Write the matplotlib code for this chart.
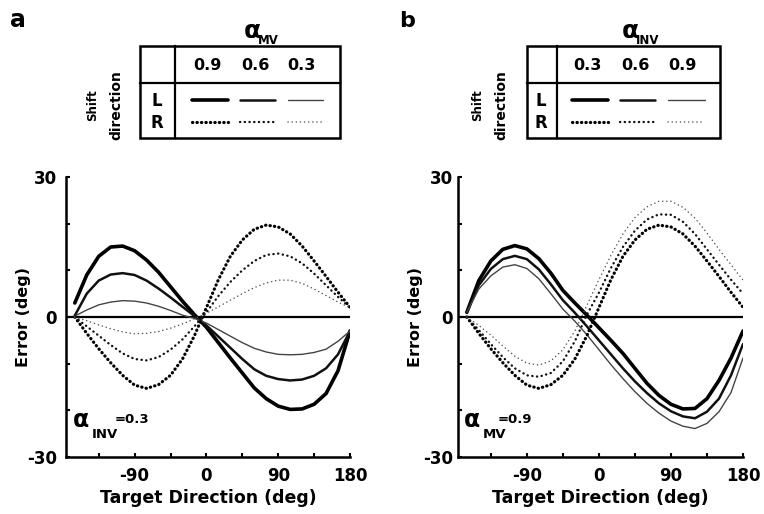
import matplotlib
matplotlib.use('Agg')
import matplotlib.pyplot as plt
from matplotlib.patches import Rectangle
from matplotlib.ticker import FixedLocator

plt.rcParams['font.family'] = ['DejaVu Sans']
plt.rcParams['font.weight'] = 'bold'

# ---------------- data ----------------
target_dir = [-165, -150, -135, -120, -105, -90, -75, -60, -45, -30, -15, 0,
              15, 30, 45, 60, 75, 90, 105, 120, 135, 150, 165, 180]

# Panel a: alpha_INV = 0.3, alpha_MV = 0.9 / 0.6 / 0.3
a_levels = ['0.9', '0.6', '0.3']
a_left_09 = [3, 9, 13, 15, 15.2, 14.2, 12.2, 9.6, 6.5, 3.4, 0.5, -2.2,
             -5.5, -8.8, -12, -15.2, -17.5, -19.1, -19.8, -19.7, -18.7, -16.4, -11.5, -3]
a_left_06 = [0.3, 5, 7.8, 9.1, 9.4, 9.0, 7.8, 6.1, 4.2, 2.2, 0.2, -1.8,
             -4.2, -6.6, -9, -11.2, -12.6, -13.3, -13.6, -13.4, -12.6, -11, -8, -3]
a_left_03 = [0.2, 1.5, 2.6, 3.2, 3.5, 3.4, 3.0, 2.3, 1.4, 0.4, -0.3, -1.3,
             -2.7, -4.1, -5.5, -6.7, -7.5, -8, -8.1, -8, -7.6, -6.9, -5.2, -3]
a_right_09 = [0, -3.5, -6.8, -9.8, -12.5, -14.6, -15.3, -14.5, -12.5, -9, -4, 2,
              8, 13, 16.5, 18.8, 19.7, 19.3, 17.8, 15.2, 12, 8.7, 5.3, 2.1]
a_right_06 = [0, -2, -4, -6, -7.8, -9, -9.3, -8.6, -7, -4.8, -2, 1,
              4.5, 7.5, 10, 12, 13.3, 13.6, 13, 11.5, 9.3, 6.8, 4.3, 2]
a_right_03 = [0, -0.8, -1.7, -2.5, -3.2, -3.6, -3.5, -3.1, -2.4, -1.5, -0.4, 0.8,
              2.2, 3.6, 5, 6.3, 7.3, 7.9, 7.9, 7.2, 6, 4.6, 3.2, 2]

# Panel b: alpha_MV = 0.9, alpha_INV = 0.3 / 0.6 / 0.9
b_levels = ['0.3', '0.6', '0.9']
b_left_03 = [1, 7.8, 12, 14.5, 15.3, 14.6, 12.5, 9.4, 5.7, 3.0, 0.4, -2.3,
             -5, -7.8, -11, -14.2, -16.8, -18.7, -19.7, -19.6, -17.5, -13.6, -8.8, -3]
b_left_06 = [1, 6.8, 10.3, 12.4, 13.1, 12.4, 10.2, 7, 3.6, 0.9, -2, -5,
             -8, -11, -13.8, -16.3, -18.5, -20.2, -21.3, -21.7, -20.3, -17.5, -12.5, -5.8]
b_left_09 = [1, 6, 8.8, 10.7, 11.2, 10.4, 8.2, 5, 1.7, -0.9, -3.8, -7,
             -10.2, -13.2, -16, -18.5, -20.6, -22.3, -23.4, -23.9, -22.8, -20.3, -16.2, -8.8]
b_right_03 = [0, -3.5, -6.8, -9.8, -12.5, -14.6, -15.3, -14.5, -12.5, -9, -4, 2,
              8, 13, 16.5, 18.8, 19.7, 19.3, 17.8, 15.2, 12, 8.7, 5.3, 2.1]
b_right_06 = [0, -2.8, -5.8, -8.6, -11, -12.5, -12.8, -12, -9.5, -5.2, 0.5, 5.2,
              10.5, 15, 18.5, 20.9, 22, 21.9, 20.4, 17.8, 14.5, 11.2, 8, 5]
b_right_09 = [0, -1.8, -3.9, -6.2, -8.4, -9.9, -10.3, -9.4, -7, -3, 2.5, 8,
              13.2, 17.8, 21.3, 23.6, 24.8, 24.8, 23.5, 21.2, 18, 14.5, 11.2, 7.9]

x_ticks = [-90, 0, 90, 180]
x_minor = [-135, -45, 45, 135]
y_ticks = [-30, 0, 30]
y_minor = [-20, -10, 10, 20]

# ---------------- styles ----------------
solid_styles = [dict(color='black', lw=2.6, solid_capstyle='round'),
                dict(color='#111111', lw=1.8, solid_capstyle='round'),
                dict(color='#444444', lw=1.0, solid_capstyle='round')]
dot_styles = [dict(color='black', lw=2.3, ls=(0, (0.1, 1.3)), dash_capstyle='round'),
              dict(color='#111111', lw=1.7, ls=(0, (0.1, 1.9)), dash_capstyle='round'),
              dict(color='#555555', lw=1.1, ls=(0, (0.1, 2.6)), dash_capstyle='round')]

W, H = 764, 514
fig = plt.figure(figsize=(W / 100, H / 100), dpi=100)


def px_axes(l, r, t, b):
    return fig.add_axes([l / W, 1 - b / H, (r - l) / W, (b - t) / H])


def setup(ax, ytick_pad, ylabel_pad):
    ax.set_xlim(-176, 180)
    ax.set_ylim(-30, 30)
    for s in ['top', 'right']:
        ax.spines[s].set_visible(False)
    for s in ['left', 'bottom']:
        ax.spines[s].set_linewidth(1.8)
    ax.set_xticks(x_ticks)
    ax.set_xticklabels([str(v) for v in x_ticks], fontsize=12, fontweight='bold')
    ax.xaxis.set_minor_locator(FixedLocator(x_minor))
    ax.set_yticks(y_ticks)
    ax.set_yticklabels([str(v) for v in y_ticks], fontsize=12, fontweight='bold')
    ax.yaxis.set_minor_locator(FixedLocator(y_minor))
    ax.tick_params(which='both', direction='in', length=3, width=1.5)
    ax.tick_params(axis='x', pad=7)
    ax.tick_params(axis='y', pad=ytick_pad)
    ax.axhline(0, color='black', lw=1.6, zorder=1)
    ax.set_xlabel('Target Direction (deg)', fontsize=12.5, fontweight='bold', labelpad=3)
    ax.set_ylabel('Error (deg)', fontsize=11.5, fontweight='bold', labelpad=ylabel_pad)


axA = px_axes(66, 350, 177, 457)
axB = px_axes(458, 743, 177, 457)
setup(axA, 6.5, -3)
setup(axB, 3.5, 0)

for ys, st in zip([a_left_09, a_left_06, a_left_03], solid_styles):
    axA.plot(target_dir, ys, **st)
for ys, st in zip([a_right_09, a_right_06, a_right_03], dot_styles):
    axA.plot(target_dir, ys, **st)
for ys, st in zip([b_left_03, b_left_06, b_left_09], solid_styles):
    axB.plot(target_dir, ys, **st)
for ys, st in zip([b_right_03, b_right_06, b_right_09], dot_styles):
    axB.plot(target_dir, ys, **st)

# in-plot annotations
for ax, sub, val, dx in [(axA, 'INV', '=0.3', 0.0), (axB, 'MV', '=0.9', -0.005)]:
    ax.text(0.025 + dx, 0.107, 'α', transform=ax.transAxes, fontsize=17, fontweight='bold', va='baseline')
    ax.text(0.092 + dx, 0.068, sub, transform=ax.transAxes, fontsize=9.5, fontweight='bold', va='baseline')
    ax.text(0.092 + dx + 0.026 * len(sub), 0.121, val, transform=ax.transAxes, fontsize=9.5,
            fontweight='bold', va='baseline')

# ---------------- legend tables (pixel overlay) ----------------
ov = fig.add_axes([0, 0, 1, 1])
ov.set_xlim(0, W)
ov.set_ylim(H, 0)
ov.axis('off')
ov.patch.set_alpha(0)


def table(x0, x1, xdiv, num_x, line_x, title_x, sub, levels, shift_x, letter, letter_x, letter_fs):
    ov.add_patch(Rectangle((x0, 46), x1 - x0, 92, fill=False, lw=1.8, color='black'))
    ov.plot([x0, x1], [83, 83], color='black', lw=1.6)
    ov.plot([xdiv, xdiv], [46, 138], color='black', lw=1.6)
    for nx, lab in zip(num_x, levels):
        ov.text(nx, 65, lab, ha='center', va='center', fontsize=11.5, fontweight='bold')
    ov.text((x0 + xdiv) / 2 - 1, 101, 'L', ha='center', va='center', fontsize=12, fontweight='bold')
    ov.text((x0 + xdiv) / 2 - 1, 123, 'R', ha='center', va='center', fontsize=12, fontweight='bold')
    for (la, lb), ss, ds in zip(line_x, solid_styles, dot_styles):
        ov.plot([la, lb], [100, 100], **ss)
        ov.plot([la, lb], [122, 122], **ds)
    ov.text(title_x, 38, 'α', ha='center', va='baseline', fontsize=18, fontweight='bold')
    ov.text(title_x + 6, 44, sub, ha='left', va='baseline', fontsize=8.5, fontweight='bold')
    ov.text(shift_x, 105, 'Shift', rotation=90, ha='center', va='center',
            fontsize=8.5, fontweight='bold')
    ov.text(shift_x + 23, 105, 'direction', rotation=90, ha='center', va='center',
            fontsize=10, fontweight='bold')
    ov.text(letter_x, 27, letter, ha='left', va='baseline', fontsize=letter_fs, fontweight='bold')


table(140, 340, 175, [207, 255, 301], [(192, 228), (240, 275), (288, 323)],
      252, 'MV', a_levels, 93, 'a', 10, 17)
table(527, 720, 557, [587, 635, 682], [(572, 608), (620, 655), (668, 705)],
      630, 'INV', b_levels, 478, 'b', 399, 16)

fig.savefig('out.png', dpi=100)
